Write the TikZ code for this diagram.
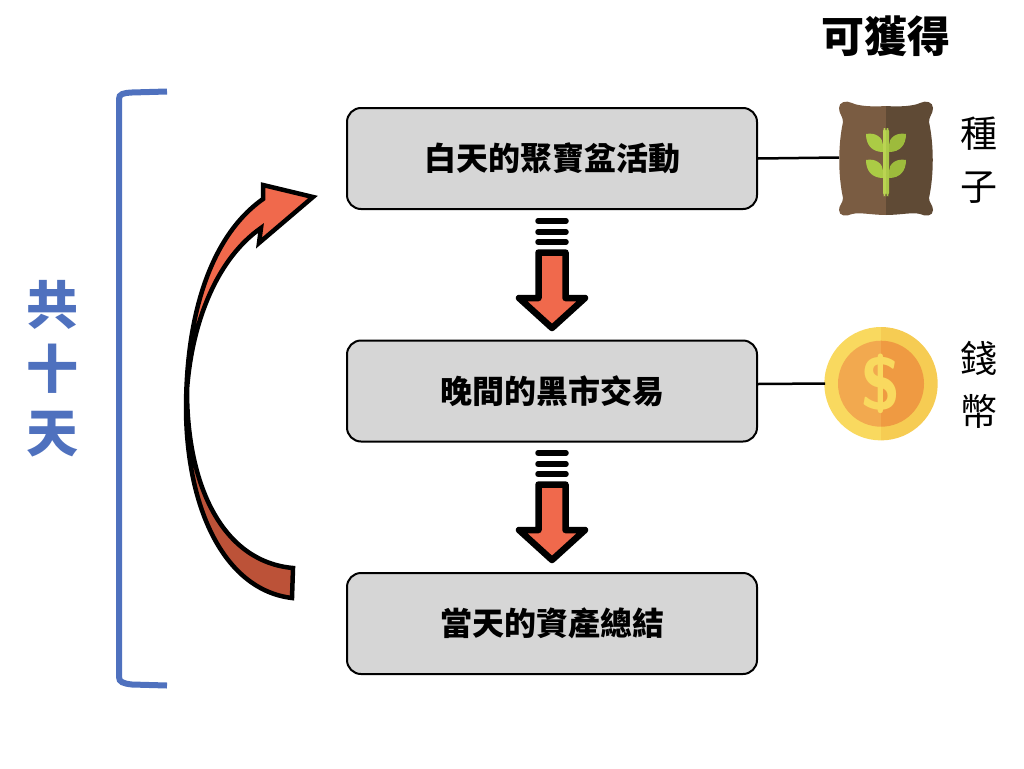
\documentclass[tikz,border=0pt]{standalone}
\usepackage{fontspec}
\newfontfamily\cjk{Noto Sans CJK TC}
\definecolor{boxgray}{HTML}{D6D6D6}
\definecolor{arrowred}{HTML}{F0694C}
\definecolor{arrowdark}{HTML}{BC5238}
\definecolor{bracketblue}{HTML}{4F71BE}
\definecolor{sackleft}{HTML}{7A5C42}
\definecolor{sackright}{HTML}{5F4A35}
\definecolor{leafleft}{HTML}{ABCB45}
\definecolor{leafright}{HTML}{9DBB3C}
\definecolor{stemleft}{HTML}{BAD452}
\definecolor{stemright}{HTML}{ABC948}
\definecolor{coinleft}{HTML}{F9D95F}
\definecolor{coinright}{HTML}{F6CC53}
\definecolor{faceleft}{HTML}{F2A94F}
\definecolor{faceright}{HTML}{EF9A42}
\begin{document}
\begin{tikzpicture}[
	x=1pt, y=-1pt,
	stage/.style={ draw, line width=2pt, fill=boxgray, rounded corners=14pt, minimum width=410pt, minimum height=101pt, inner sep=0pt, font=\cjk\fontsize{32}{32}\selectfont\bfseries },
	gain/.style={ align=center, inner sep=0pt, font=\cjk\fontsize{37}{53}\selectfont },
	link/.style={ line width=2.5pt },
	block/.style={ draw, line width=6.5pt, line join=round, fill=arrowred },
	bar/.style={ line width=5.5pt, line cap=round }
]
\useasboundingbox (0,0) rectangle (1024,768);

% stages
\node at (552,158.5) (day) [stage] {白天的聚寶盆活動};
\node at (552,391) (night) [stage] {晚間的黑市交易};
\node at (552,623.5) (total) [stage] {當天的資產總結};

% down arrows
\foreach \dy in {0,232} {
  \begin{scope}[yshift=-\dy pt]
    \foreach \by in {221,232,242}
      \draw[bar] (538,\by) -- (566,\by);
    \draw[block] (538.5,252.5) -- (565.5,252.5) -- (565.5,298) -- (585,298) -- (552,328) -- (519,298) -- (538.5,298) -- cycle;
  \end{scope}
}

% bracket
\draw[bracketblue,line width=6pt]
  (167,91.5) -- (132,92.5) .. controls (123,93) and (119,94) .. (119,99) -- (119,677) .. controls (119,682) and (123,683.5) .. (132,684.5) -- (167,685.5);
\node at (52,369) (days) [align=center,inner sep=0pt,text=bracketblue,font=\cjk\fontsize{52}{64}\selectfont\bfseries] {共\\十\\天};

% loop arrow
\fill[arrowdark] (292,598) .. controls (225,590) and (187,510) .. (186,410) -- (187,390) .. controls (187,490) and (225,562) .. (293,568) -- cycle;
\fill[arrowred] (186,410) .. controls (186,312) and (212,235) .. (263,199) -- (263,185) -- (313,197) -- (259,243) -- (261,228) .. controls (218,258) and (192,320) .. (187,390) -- cycle;
\draw[line width=4.5pt,miter limit=6]
  (292,598) .. controls (225,590) and (187,510) .. (186,410)
  .. controls (186,312) and (212,235) .. (263,199) -- (263,185) -- (313,197) -- (259,243) -- (261,228)
  .. controls (218,258) and (192,320) .. (187,390)
  .. controls (187,490) and (225,562) .. (293,568) -- cycle;

% sack
\fill[sackleft] (886,106) .. controls (872,107) and (858,106) .. (852,103) .. controls (846,100) and (839,102) .. (839,108) .. controls (839,114) and (843,116) .. (843,122) .. controls (838,145) and (838,175) .. (843,198) .. controls (843,203) and (839,205) .. (839,210) .. controls (839,216) and (846,217) .. (852,214) .. controls (860,212) and (872,215) .. (886,215) -- cycle;
\fill[sackright] (886,106) .. controls (900,107) and (914,106) .. (920,103) .. controls (926,100) and (933,102) .. (933,108) .. controls (933,114) and (929,116) .. (929,122) .. controls (934,145) and (934,175) .. (929,198) .. controls (929,203) and (933,205) .. (933,210) .. controls (933,216) and (926,217) .. (920,214) .. controls (912,212) and (900,215) .. (886,215) -- cycle;
\foreach \ly in {0,26} {
  \fill[leafleft] (883,\ly+152) .. controls (872,\ly+152) and (866,\ly+145) .. (866,\ly+134) .. controls (876,\ly+132) and (883,\ly+138) .. (883,\ly+145) -- cycle;
  \fill[leafright] (889,\ly+152) .. controls (900,\ly+152) and (906,\ly+145) .. (906,\ly+134) .. controls (896,\ly+132) and (889,\ly+138) .. (889,\ly+145) -- cycle;
}
\fill[stemleft,rounded corners=3pt] (883,128) rectangle (886,196);
\fill[stemright,rounded corners=3pt] (886,128) rectangle (889,196);
\coordinate (sack) at (839,157.5);

% coin
\fill[coinleft] (881,327) arc (270:90:56.7) -- cycle;
\fill[coinright] (881,327) arc (-90:90:56.7) -- cycle;
\fill[faceleft] (881,340.7) arc (270:90:43) -- cycle;
\fill[faceright] (881,340.7) arc (-90:90:43) -- cycle;
\node at (881,383.5) (dollar) [inner sep=0pt,text=coinleft,font=\sffamily\bfseries\fontsize{74}{74}\selectfont] {\$};
\coordinate (coin) at (825,383.5);

% links
\draw[link] (day.east) -- (sack);
\draw[link] ([yshift=7pt]night.east) -- (coin);

% right column
\node at (886,36) (title) [font=\cjk\fontsize{43}{43}\selectfont\bfseries] {可獲得};
\node at (979,160.5) (seed) [gain] {種\\子};
\node at (979,384.5) (money) [gain] {錢\\幣};

\end{tikzpicture}
\end{document}
